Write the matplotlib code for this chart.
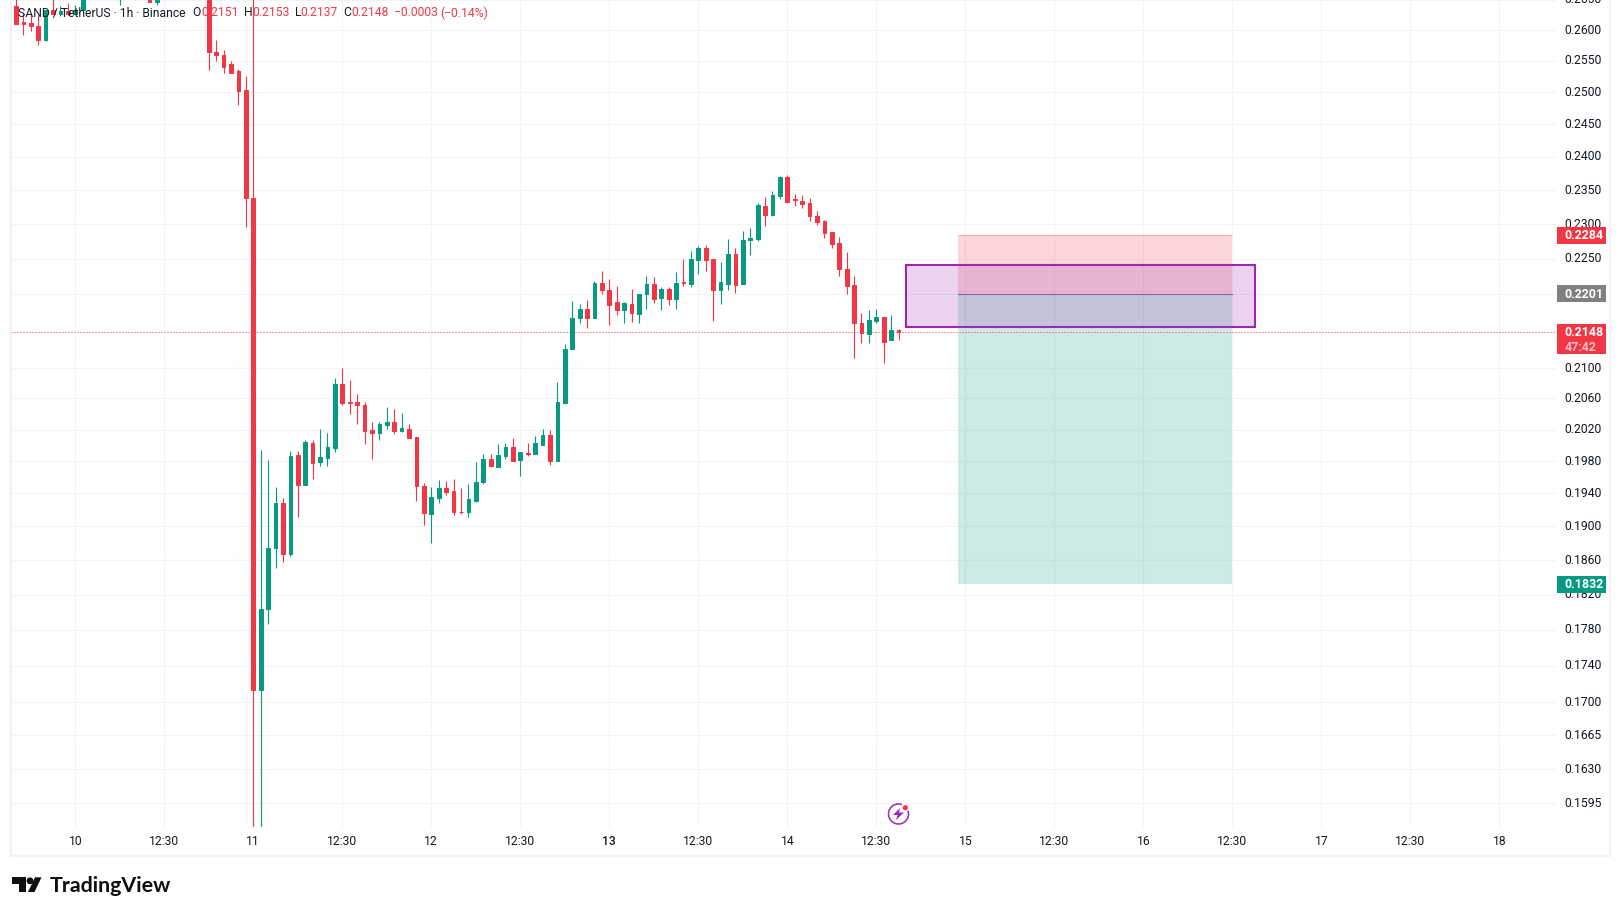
import matplotlib
matplotlib.use('Agg')
import matplotlib.pyplot as plt
from matplotlib.patches import Rectangle, Polygon, Circle, Arc
from matplotlib.transforms import IdentityTransform

plt.rcParams['font.family'] = ['Roboto', 'DejaVu Sans']

RED = '#F23645'
GREEN = '#089981'
PURPLE = '#9C27B0'
GRID = '#F2F3F5'
DARK = '#131722'
W, H = 1620, 915

# hours relative to the day 11 open, candles hidden above the chart are left out
hours = list(range(-32, -22)) + [-18, -14, -13] + list(range(-6, 88))
opens = [
    .2639, .2613, .2612, .2607, .2584, .2633, .2626, .2631, .2626, .2633,
    .2658, .2657, .2647,
    .2700, .2564, .2559, .2544, .2533, .2503, .2338,
    .1714, .1803, .1874, .1928, .1867, .1988, .1950, .2003, .1979, .1984,
    .1997, .2079, .2055, .2055, .2051, .2019, .2016, .2026, .2030, .2018,
    .2021, .2010, .1949, .1915, .1935, .1947, .1943, .1918, .1917, .1931,
    .1954, .1983, .1973, .1987, .1998, .1982, .1990, .1989, .2000, .2013,
    .1980, .2054, .2126, .2167, .2180, .2168, .2216, .2206, .2190, .2179,
    .2187, .2173, .2201, .2215, .2195, .2208, .2193, .2217, .2215, .2249,
    .2265, .2250, .2206, .2215, .2257, .2215, .2277, .2278, .2326, .2313,
    .2341, .2370, .2337, .2334, .2331, .2312, .2305, .2288, .2272, .2236,
    .2213, .2161, .2146, .2164, .2169, .2137, .2151,
]
highs = [
    .2654, .2628, .2625, .2625, .2633, .2658, .2639, .2644, .2641, .2670,
    .2670, .2665, .2660,
    .2710, .2584, .2567, .2549, .2536, .2526, .2720,
    .1994, .1981, .1948, .1934, .1993, .1993, .2007, .2007, .2021, .2016,
    .2087, .2100, .2084, .2066, .2055, .2030, .2030, .2049, .2046, .2041,
    .2027, .2010, .1953, .1948, .1957, .1955, .1958, .1947, .1952, .1979,
    .1989, .1989, .2002, .2003, .2009, .1992, .2003, .2012, .2021, .2019,
    .2082, .2132, .2191, .2187, .2192, .2219, .2233, .2222, .2212, .2190,
    .2208, .2201, .2226, .2225, .2210, .2210, .2231, .2250, .2261, .2268,
    .2270, .2250, .2246, .2278, .2265, .2290, .2294, .2331, .2340, .2349,
    .2371, .2372, .2344, .2343, .2338, .2319, .2306, .2288, .2281, .2260,
    .2226, .2175, .2179, .2180, .2169, .2172, .2153,
]
lows = [
    .2610, .2592, .2598, .2575, .2582, .2626, .2623, .2625, .2626, .2633,
    .2641, .2646, .2641,
    .2535, .2550, .2530, .2530, .2480, .2296, .1540,
    .1550, .1787, .1851, .1858, .1865, .1911, .1950, .1958, .1974, .1974,
    .1992, .2051, .2040, .2027, .2002, .1983, .2007, .2021, .2014, .2017,
    .2009, .1931, .1902, .1880, .1928, .1938, .1914, .1915, .1911, .1930,
    .1952, .1974, .1973, .1983, .1980, .1962, .1987, .1989, .2000, .1975,
    .1980, .2053, .2126, .2160, .2154, .2168, .2201, .2158, .2172, .2161,
    .2162, .2161, .2180, .2188, .2179, .2186, .2180, .2212, .2210, .2229,
    .2233, .2164, .2187, .2206, .2202, .2215, .2256, .2275, .2297, .2312,
    .2337, .2332, .2326, .2323, .2305, .2299, .2280, .2265, .2226, .2201,
    .2114, .2134, .2133, .2160, .2107, .2137, .2137,
]
closes = [
    .2610, .2610, .2607, .2584, .2633, .2626, .2631, .2626, .2633, .2663,
    .2663, .2646, .2655,
    .2564, .2559, .2540, .2530, .2502, .2338, .1714,
    .1803, .1874, .1928, .1867, .1987, .1950, .2004, .1978, .1985, .1998,
    .2079, .2054, .2054, .2051, .2018, .2016, .2027, .2030, .2018, .2022,
    .2009, .1949, .1916, .1936, .1947, .1942, .1917, .1917, .1933, .1954,
    .1983, .1974, .1988, .1998, .1980, .1992, .1989, .2003, .2013, .1980,
    .2055, .2126, .2168, .2180, .2168, .2216, .2206, .2186, .2179, .2188,
    .2175, .2201, .2215, .2193, .2208, .2193, .2216, .2216, .2250, .2265,
    .2249, .2206, .2217, .2257, .2213, .2277, .2280, .2328, .2313, .2343,
    .2370, .2332, .2335, .2329, .2312, .2303, .2287, .2271, .2236, .2212,
    .2161, .2147, .2165, .2169, .2135, .2151, .2148,
]

price_ticks = [.2650, .2600, .2550, .2500, .2450, .2400, .2350, .2300, .2250, .2200, .2100,
               .2060, .2020, .1980, .1940, .1900, .1860, .1820, .1780, .1740, .1700,
               .1665, .1630, .1595]
# 0.2200 is hidden behind the 0.2201 tag in the picture, its grid line stays
price_labels = ['' if p == .2200 else '%.4f' % p for p in price_ticks]
time_ticks = list(range(-24, 169, 12))
time_labels = ['10', '12:30', '11', '12:30', '12', '12:30', '13', '12:30', '14', '12:30',
               '15', '12:30', '16', '12:30', '17', '12:30', '18']

last_price = .2148
entry_price = .2201
stop_price = .2284
target_price = .1832
position_span = (95, 132)
zone_span = (88, 135)
zone_prices = (.2155, .2241)

fig = plt.figure(figsize=(W / 100, H / 100), dpi=100, facecolor='white')
ax = fig.add_axes([11 / W, (H - 827) / H, (1556 - 11) / W, (827 + 3) / H])
ax.set_yscale('log')
ax.set_xlim(-32.67, 175.64)
ax.set_ylim(.15714, .26548)
for s in ax.spines.values():
    s.set_visible(False)

ax.yaxis.tick_right()
ax.set_yticks(price_ticks, labels=price_labels)
ax.set_yticks([], minor=True)
ax.set_xticks(time_ticks, labels=time_labels)
ax.tick_params(axis='y', length=0, pad=6, labelsize=8.7, labelcolor=DARK)
ax.tick_params(axis='x', length=0, pad=5.6, labelsize=8.7, labelcolor=DARK)
for lab in ax.get_yticklabels():
    lab.set_verticalalignment('center')
ax.get_xticklabels()[time_labels.index('13')].set_fontweight('medium')
ax.grid(True, color=GRID, lw=0.75, zorder=0)
ax.set_axisbelow(True)


def px(x, y):
    # pixel from the top left of the picture to display coordinates
    return x, H - y


def add_px(patch):
    patch.set_transform(IdentityTransform())
    patch.set_clip_on(False)
    fig.add_artist(patch)


# position tool
ax.fill_between(position_span, stop_price, entry_price, color=RED, alpha=0.2, lw=0, zorder=1)
ax.fill_between(position_span, entry_price, target_price, color=GREEN, alpha=0.2, lw=0, zorder=1)
ax.plot(position_span, [stop_price] * 2, color=RED, alpha=0.25, lw=0.75, zorder=1)
ax.plot(position_span, [entry_price] * 2, color='#787B86', lw=0.75, zorder=1.5)

# zone rectangle
ax.add_patch(Rectangle((zone_span[0], zone_prices[0]), zone_span[1] - zone_span[0],
                       zone_prices[1] - zone_prices[0], facecolor=PURPLE + '33',
                       edgecolor=PURPLE, lw=1.5, zorder=2))

# candles
colors = [GREEN if c >= o else RED for o, c in zip(opens, closes)]
ax.vlines(hours, lows, highs, colors=colors, lw=0.8, zorder=3)
bottoms = [min(o, c) for o, c in zip(opens, closes)]
heights = [max(abs(o - c), .0001) for o, c in zip(opens, closes)]
ax.bar(hours, heights, bottom=bottoms, width=0.5, color=colors, edgecolor=colors, lw=0.72, zorder=3.5)

ax.axhline(last_price, color=RED, lw=0.72, ls=(0, (1, 2)), zorder=2.5)


# price tags on the scale
def price_tag(price, text, color, extra=None):
    y = ax.transData.transform((0, price))[1]
    h = 17 if extra is None else 30.5
    top = y + 8.5
    add_px(Rectangle((1557, top - h), 48.5, h, facecolor=color, lw=0))
    fig.text(1564.5 / W, (y - 0.5) / H, text, color='white', fontsize=8.9, fontweight='bold', va='center', ha='left')
    if extra:
        fig.text(1564.5 / W, (y - 15) / H, extra, color='#FFFFFFB0', fontsize=8.9, fontweight='bold',
                 va='center', ha='left')


price_tag(stop_price, '%.4f' % stop_price, RED)
price_tag(entry_price, '%.4f' % entry_price, '#808080')
price_tag(last_price, '%.4f' % last_price, RED, '47:42')
price_tag(target_price, '%.4f' % target_price, GREEN)

# legend line on top
legend_parts = [
    (18, 'SAND / TetherUS · 1h · Binance', DARK), (192.4, 'O', DARK), (201, '0.2151', RED),
    (243.6, 'H', DARK), (252, '0.2153', RED), (294.5, 'L', DARK), (300.7, '0.2137', RED),
    (343.6, 'C', DARK), (351.2, '0.2148', RED), (393.8, '−0.0003', RED), (440.2, '(−0.14%)', RED),
]
for x, t, c in legend_parts:
    fig.text(x / W, (H - 13) / H, t, color=c, fontsize=8.7, va='center', ha='left')

# frame around the chart
for x, y, w, h in [(9.5, 0, 2, 857), (1609, 0, 2, 857), (9.5, 855, 1601.5, 2)]:
    add_px(Rectangle(px(x, y + h), w, h, facecolor='#F2F2F2', lw=0))

# TradingView logo
add_px(Polygon([px(11.7, 877.3), px(26, 877.3), px(26, 892), px(19, 892), px(19, 884), px(11.7, 884)],
               facecolor='#0F0F0F', lw=0))
add_px(Circle(px(30, 880.8), 3.4, facecolor='#0F0F0F', lw=0))
add_px(Polygon([px(35, 877.3), px(41.5, 877.3), px(34.5, 892), px(28, 892)], facecolor='#0F0F0F', lw=0))
fig.text(49.5 / W, (H - 885.5) / H, 'TradingView', color='#0F0F0F', fontsize=15.4, fontweight='bold',
         family='Lato', va='center', ha='left')

# lightning badge
add_px(Arc(px(898.5, 814), 20, 20, theta1=70, theta2=20, edgecolor=PURPLE, lw=1.1))
add_px(Polygon([px(900, 808), px(893, 815), px(897.5, 815), px(896, 820), px(904, 812.5), px(899, 812.5)],
               facecolor=PURPLE, lw=0))
add_px(Circle(px(905.3, 807.7), 2.6, facecolor=RED, lw=0))

fig.savefig('out.png', dpi=100, facecolor='white')
plt.close(fig)
